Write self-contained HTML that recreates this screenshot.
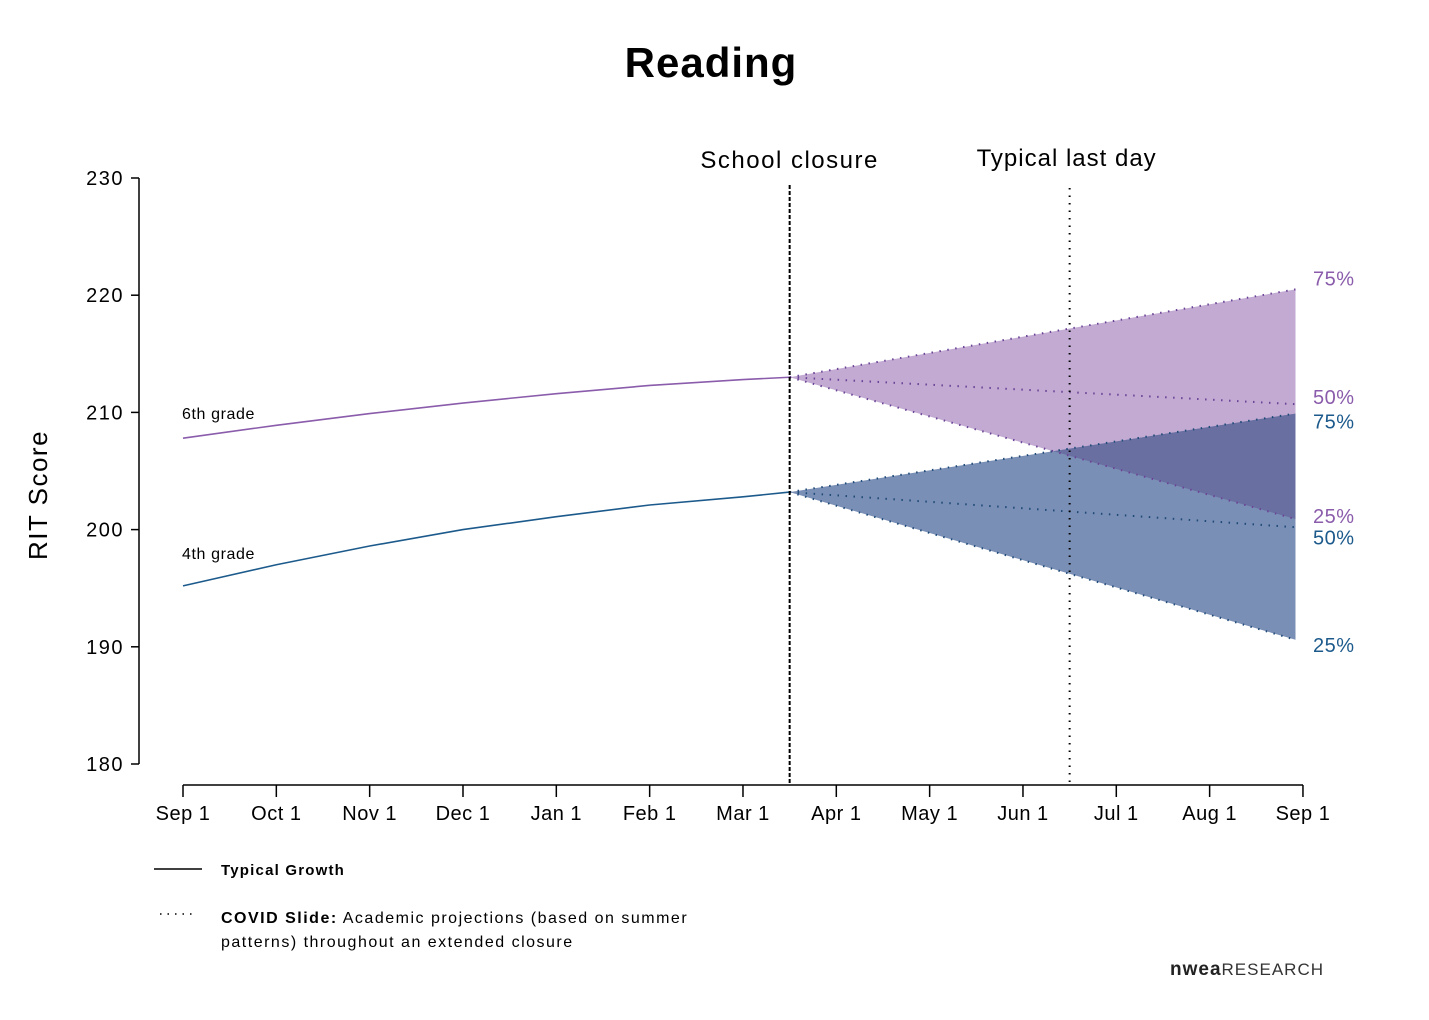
<!DOCTYPE html>
<html><head><meta charset="utf-8"><style>
body{margin:0;background:#fff}
svg{display:block;font-family:"Liberation Sans",sans-serif}
</style></head><body>
<svg id="chart" width="1429" height="1020" viewBox="0 0 1429 1020">
<text x="711" y="77" text-anchor="middle" font-size="42" font-weight="bold" letter-spacing="1">Reading</text>
<text x="47" y="495" text-anchor="middle" font-size="26" letter-spacing="1.5" transform="rotate(-90 47 495)">RIT Score</text>
<g id="plot"></g>
<g>
<line x1="154" y1="869" x2="202" y2="869" stroke="#000" stroke-width="1.5"/>
<text x="221" y="875" font-size="15" font-weight="bold" letter-spacing="1.2">Typical Growth</text>
<line x1="160" y1="914" x2="197" y2="914" stroke="#000" stroke-width="1.5" stroke-dasharray="1.5 6"/>
<text x="221" y="923" font-size="16" letter-spacing="1.5"><tspan font-weight="bold">COVID Slide:</tspan> Academic projections (based on summer</text>
<text x="221" y="947" font-size="16" letter-spacing="1.5">patterns) throughout an extended closure</text>
</g>
<text x="1170" y="975" font-size="17" fill="#333" letter-spacing="1"><tspan font-weight="bold" font-size="19" fill="#222">nwea</tspan>RESEARCH</text>
</svg>
<script>
const yTicks=[180,190,200,210,220,230];
const xLabels=["Sep 1","Oct 1","Nov 1","Dec 1","Jan 1","Feb 1","Mar 1","Apr 1","May 1","Jun 1","Jul 1","Aug 1","Sep 1"];
const growthMonths=[0,1,2,3,4,5,6,6.5];
const grade6Growth=[207.8,208.9,209.9,210.8,211.6,212.3,212.8,213.0];
const grade4Growth=[195.2,197.0,198.6,200.0,201.1,202.1,202.8,203.2];
const closureMonth=6.5, lastDayMonth=9.5, projEndMonth=11.92;
const grade6Proj={p75:220.5,p50:210.7,p25:200.9};
const grade4Proj={p75:209.9,p50:200.2,p25:190.6};
const NS="http://www.w3.org/2000/svg";
const X=m=>183+m*93.33, Y=v=>764-(v-180)*11.72;
const g=document.getElementById('plot');
function mk(t,a,name){const e=document.createElementNS(NS,t);for(const k in a)e.setAttribute(k,a[k]);


g.appendChild(e);return e;}
mk('line',{x1:139,y1:178,x2:139,y2:764,stroke:'#000','stroke-width':1.5},'y-axis');
yTicks.forEach(v=>{mk('line',{x1:131,y1:Y(v),x2:139,y2:Y(v),stroke:'#000','stroke-width':1.5},'y-tick');
const t=mk('text',{x:124,y:Y(v)+7,'text-anchor':'end','font-size':20,'letter-spacing':1.5},'y-tick-label');t.textContent=v;});
mk('line',{x1:183,y1:785,x2:1303,y2:785,stroke:'#000','stroke-width':1.5},'x-axis');
xLabels.forEach((l,i)=>{mk('line',{x1:X(i),y1:785,x2:X(i),y2:797,stroke:'#000','stroke-width':1.5},'x-tick');
const t=mk('text',{x:X(i),y:820,'text-anchor':'middle','font-size':20,'letter-spacing':0.5},'x-tick-label');t.textContent=l;});
const cx=X(closureMonth), ex=X(projEndMonth);
const p6s=grade6Growth[grade6Growth.length-1], p4s=grade4Growth[grade4Growth.length-1];
const defs=mk('defs',{},'defs');
const cp=document.createElementNS(NS,'clipPath');cp.setAttribute('id','c6');defs.appendChild(cp);
const cpp=document.createElementNS(NS,'polygon');
const poly6=`${cx},${Y(p6s)} ${ex},${Y(grade6Proj.p75)} ${ex},${Y(grade6Proj.p25)}`;
const poly4=`${cx},${Y(p4s)} ${ex},${Y(grade4Proj.p75)} ${ex},${Y(grade4Proj.p25)}`;
cpp.setAttribute('points',poly6);cp.appendChild(cpp);
mk('polygon',{points:poly6,fill:'#c2aad2'},'grade6-projection-band');
mk('polygon',{points:poly4,fill:'#7a8fb5'},'grade4-projection-band');
mk('polygon',{points:poly4,fill:'#6a6fa2','clip-path':'url(#c6)'},'band-overlap');
[['p75','75'],['p50','50'],['p25','25']].forEach(([k,n])=>{
mk('line',{x1:cx,y1:Y(p6s),x2:ex,y2:Y(grade6Proj[k]),stroke:'#6b4396','stroke-width':2,'stroke-dasharray':'1.5 6.5'},'grade6-'+n+'-projection');
mk('line',{x1:cx,y1:Y(p4s),x2:ex,y2:Y(grade4Proj[k]),stroke:'#1f4a78','stroke-width':2,'stroke-dasharray':'1.5 6.5'},'grade4-'+n+'-projection');
});
const path=(arr)=>arr.map((v,i)=>(i?'L':'M')+X(growthMonths[i])+','+Y(v)).join(' ');
mk('path',{d:path(grade6Growth),fill:'none',stroke:'#8a5cab','stroke-width':1.6},'grade6-growth-line');
mk('path',{d:path(grade4Growth),fill:'none',stroke:'#1c5a8c','stroke-width':1.6},'grade4-growth-line');
let t=mk('text',{x:182,y:419,'font-size':16,'letter-spacing':0.6},'grade6-label');t.textContent='6th grade';
t=mk('text',{x:182,y:559,'font-size':16,'letter-spacing':0.6},'grade4-label');t.textContent='4th grade';
mk('line',{x1:cx,y1:185,x2:cx,y2:785,stroke:'#000','stroke-width':2,'stroke-dasharray':'4 2'},'school-closure-line');
mk('line',{x1:X(lastDayMonth),y1:188,x2:X(lastDayMonth),y2:785,stroke:'#000','stroke-width':2,'stroke-dasharray':'1.5 6'},'last-day-line');
t=mk('text',{x:cx,y:168,'text-anchor':'middle','font-size':24,'letter-spacing':1.5},'school-closure-label');t.textContent='School closure';
t=mk('text',{x:X(lastDayMonth)-3,y:166,'text-anchor':'middle','font-size':24,'letter-spacing':1},'last-day-label');t.textContent='Typical last day';
const pl=[[grade6Proj.p75,'75%','#8a5cab',-4],[grade6Proj.p50,'50%','#8a5cab',0],[grade6Proj.p25,'25%','#8a5cab',4],
[grade4Proj.p75,'75%','#1c5a8c',15],[grade4Proj.p50,'50%','#1c5a8c',17],[grade4Proj.p25,'25%','#1c5a8c',12]];
pl.forEach(([v,l,c,o])=>{const e=mk('text',{x:1313,y:Y(v)+o,'font-size':20,'letter-spacing':0.5,fill:c},'percentile-label');e.textContent=l;});
</script>
</body></html>
